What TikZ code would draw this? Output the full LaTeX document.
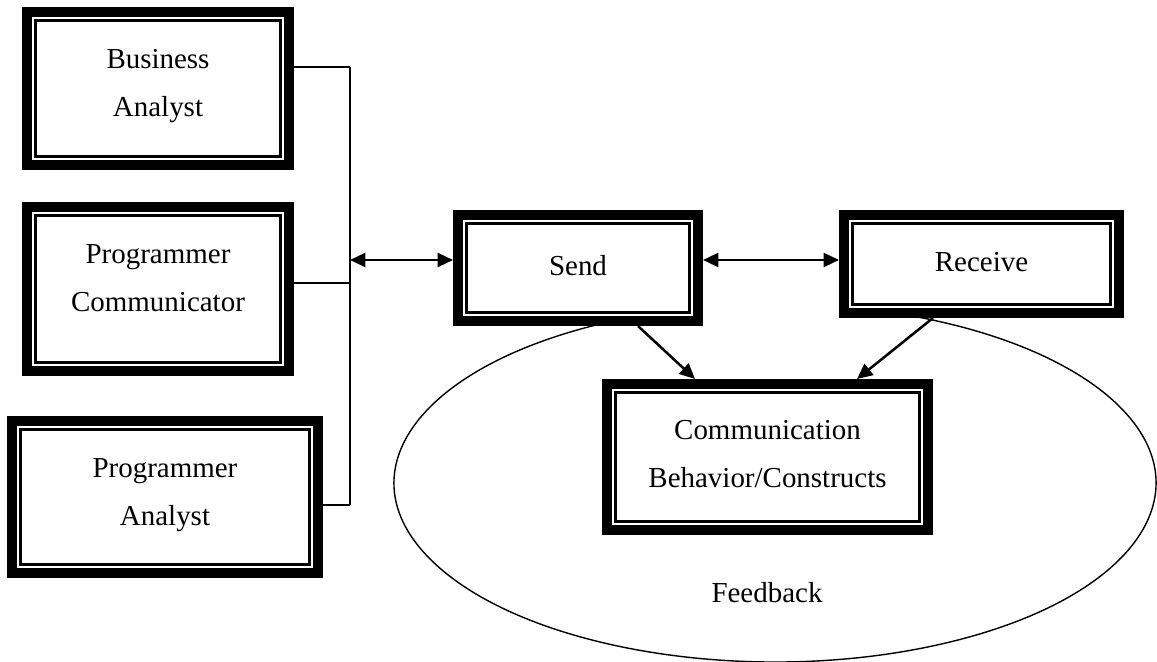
\documentclass[tikz,border=0pt]{standalone}
\usepackage{fontspec}
\setmainfont{Liberation Serif}
\usetikzlibrary{arrows.meta}
\pgfdeclarelayer{edgelayer}
\pgfdeclarelayer{nodelayer}
\pgfsetlayers{edgelayer,nodelayer,main}
\tikzset{font=\fontsize{20.6pt}{34.1pt}\selectfont}
\tikzstyle{none}=[inner sep=0pt]
\tikzstyle{txt}=[inner sep=0pt, align=center]
\tikzstyle{frame}=[rectangle, draw, fill=white, line width=7.1pt, inner sep=0pt,
	path picture={\draw [line width=1.8pt] ([shift={(0.21,0.21)}]path picture bounding box.south west) rectangle ([shift={(-0.21,-0.21)}]path picture bounding box.north east);}]
\tikzstyle{wire}=[line width=1pt]
\tikzstyle{loop}=[line width=1pt]
\tikzstyle{pointer}=[line width=1.8pt, -{Triangle[length=11pt, width=10pt]}]
\tikzstyle{twoway}=[line width=1.8pt, {Triangle[length=11pt, width=10pt]}-{Triangle[length=11pt, width=10pt]}]

\begin{document}
\begin{tikzpicture}
	\useasboundingbox (0, 0) rectangle (28.925, 16.55);
	\begin{pgfonlayer}{nodelayer}
		\node [style=frame, minimum width=6.55cm, minimum height=3.825cm] (0) at (3.95, 14.3375) {};
		\node [style=frame, minimum width=6.55cm, minimum height=4.1cm] (1) at (3.95, 9.325) {};
		\node [style=frame, minimum width=7.65cm, minimum height=3.8cm] (2) at (4.125, 4.125) {};
		\node [style=frame, minimum width=6cm, minimum height=2.65cm] (3) at (14.45, 9.85) {};
		\node [style=frame, minimum width=6.875cm, minimum height=2.45cm] (4) at (24.5375, 9.95) {};
		\node [style=frame, minimum width=8.025cm, minimum height=3.65cm] (5) at (19.1875, 5.125) {};
		\node [style=txt] (6) at (3.95, 14.39) {Business\\Analyst};
		\node [style=txt] (7) at (3.95, 9.5925) {Programmer\\Communicator};
		\node [style=txt] (8) at (4.125, 4.165) {Programmer\\Analyst};
		\node [style=txt] (9) at (14.45, 9.9) {Send};
		\node [style=txt] (10) at (24.5375, 9.9875) {Receive};
		\node [style=txt] (11) at (19.1875, 5.1875) {Communication\\Behavior/Constructs};
		\node [style=txt] (12) at (19.175, 1.725) {Feedback};
		\node [style=none] (13) at (8.75, 14.875) {};
		\node [style=none] (14) at (8.75, 3.925) {};
		\node [style=none] (15) at (8.75, 10.05) {};
		\node [style=none] (16) at (19.375, 4.475) {};
		\node [style=none] (17) at (8.75, 9.475) {};
	\end{pgfonlayer}
	\begin{pgfonlayer}{edgelayer}
		% feedback loop round the lower boxes
		\draw [style=loop] ([shift={(117:9.525 and 4.475)}]16.center) arc [start angle=117, end angle=434, x radius=9.525, y radius=4.475];
		% bus from the three roles
		\draw [style=wire] (13.center) to (14.center);
		\draw [style=wire] (0.east |- 13.center) to (13.center);
		\draw [style=wire] (1.east |- 17.center) to (17.center);
		\draw [style=wire] (2.east |- 14.center) to (14.center);
		\draw [style=twoway] (15.center) to (3.west |- 15.center);
		\draw [style=twoway] (3.east |- 15.center) to (4.west |- 15.center);
		\draw [style=pointer] ([xshift=1.5cm]3.south) to ([xshift=-1.8125cm]5.north);
		\draw [style=pointer] ([xshift=-1.2125cm]4.south) to ([xshift=2.2375cm]5.north);
	\end{pgfonlayer}
\end{tikzpicture}
\end{document}
